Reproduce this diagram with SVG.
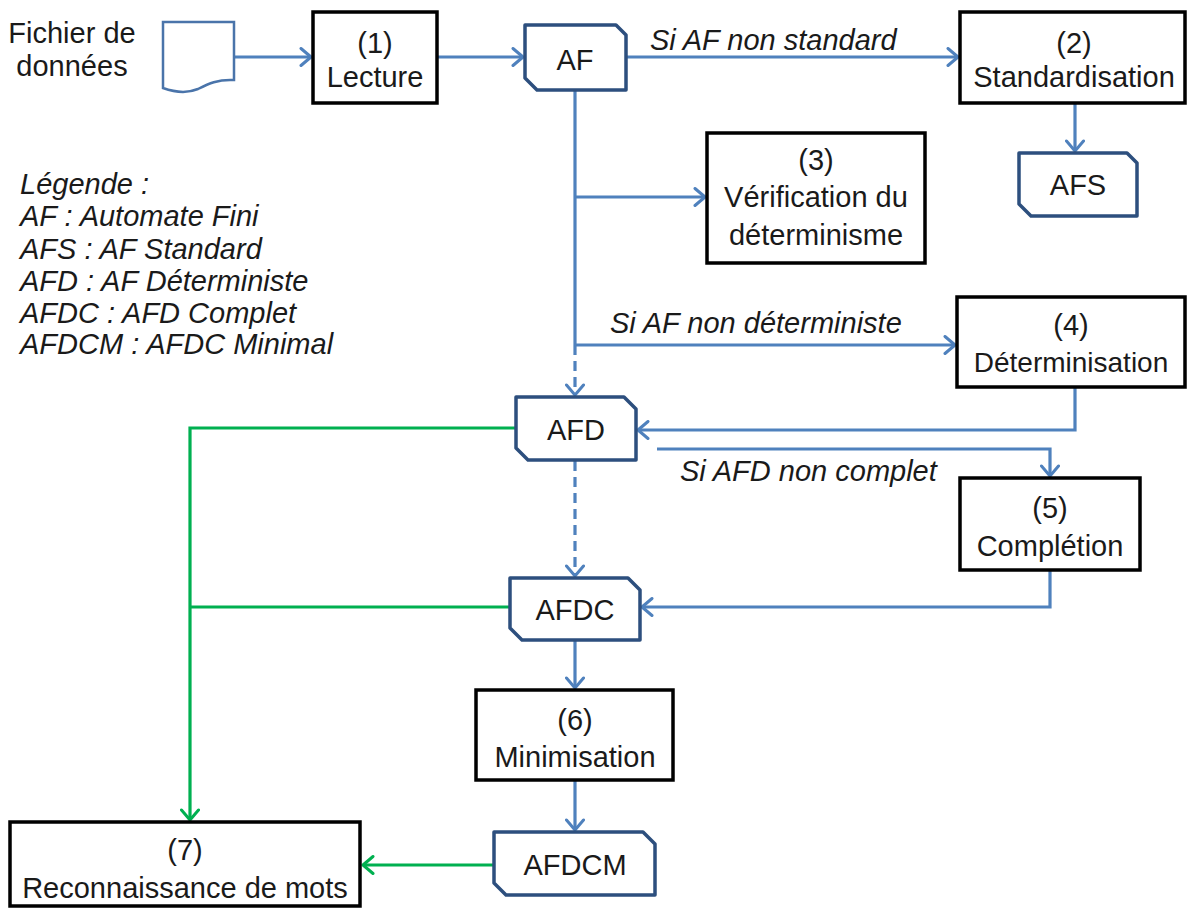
<svg xmlns="http://www.w3.org/2000/svg" width="1190" height="910" viewBox="0 0 1190 910">
<defs>
<marker id="ab" viewBox="0 0 14 20" refX="12" refY="10" markerWidth="14" markerHeight="20" markerUnits="userSpaceOnUse" orient="auto">
<path d="M2,1.5 L12,10 L2,18.5" fill="none" stroke="#4f81bd" stroke-width="3" stroke-linecap="round" stroke-linejoin="round"/>
</marker>
<marker id="ag" viewBox="0 0 14 20" refX="12" refY="10" markerWidth="14" markerHeight="20" markerUnits="userSpaceOnUse" orient="auto">
<path d="M2,1.5 L12,10 L2,18.5" fill="none" stroke="#00b050" stroke-width="3" stroke-linecap="round" stroke-linejoin="round"/>
</marker>
</defs>
<style>
text{font-family:"Liberation Sans",Arial,sans-serif;font-size:29px;fill:#1a1a1a}
.c{text-anchor:middle}
.s{font-size:28px}
.i{font-style:italic}
.box{fill:#fff;stroke:#000;stroke-width:3.5}
.snip{fill:#fff;stroke:#2d4f7e;stroke-width:3.5;stroke-linejoin:round}
.doc{fill:#fff;stroke:#4a74aa;stroke-width:2.5}
.b{fill:none;stroke:#4f81bd;stroke-width:3.2}
.bd{fill:none;stroke:#4f81bd;stroke-width:3.2;stroke-dasharray:10,6}
.g{fill:none;stroke:#00b050;stroke-width:3.2}
</style>
<rect width="1190" height="910" fill="#fff"/>

<g id="connectors">
<line class="b" x1="235" y1="57" x2="311" y2="57" marker-end="url(#ab)"/>
<line class="b" x1="438" y1="57" x2="523" y2="57" marker-end="url(#ab)"/>
<line class="b" x1="627" y1="57" x2="958" y2="57" marker-end="url(#ab)"/>
<line class="b" x1="1075" y1="104" x2="1075" y2="151" marker-end="url(#ab)"/>
<polyline class="b" points="575,91 575,345"/>
<line class="b" x1="575" y1="197" x2="705" y2="197" marker-end="url(#ab)"/>
<line class="b" x1="575" y1="345" x2="955" y2="345" marker-end="url(#ab)"/>
<line class="bd" x1="575" y1="345" x2="575" y2="395" marker-end="url(#ab)"/>
<polyline class="b" points="1075,388 1075,430 638,430" marker-end="url(#ab)"/>
<polyline class="b" points="657,449 1050,449 1050,476" marker-end="url(#ab)"/>
<line class="bd" x1="575" y1="461" x2="575" y2="576" marker-end="url(#ab)"/>
<polyline class="b" points="1050,571 1050,607 642,607" marker-end="url(#ab)"/>
<line class="b" x1="575" y1="641" x2="575" y2="688" marker-end="url(#ab)"/>
<line class="b" x1="575" y1="781" x2="575" y2="830" marker-end="url(#ab)"/>
<polyline class="g" points="515,428 190,428 190,820" marker-end="url(#ag)"/>
<line class="g" x1="509" y1="607" x2="190" y2="607"/>
<line class="g" x1="493" y1="865" x2="363" y2="865" marker-end="url(#ag)"/>
</g>

<g id="fichier">
<path class="doc" d="M163,22 H234 V80 C218,79 208,84 198,89 C186,94 174,92 163,88 Z"/>
<text class="c" x="72" y="43">Fichier de</text>
<text class="c" x="72" y="76">données</text>
</g>

<g id="lecture">
<rect class="box" x="313" y="12" width="124" height="91"/>
<text class="c" x="375" y="53">(1)</text>
<text class="c" x="375" y="87">Lecture</text>
</g>

<g id="af">
<path class="snip" d="M525,25 H616 L626,35 V90 H537 L525,78 Z"/>
<text class="c" x="575" y="70">AF</text>
</g>

<g id="standardisation">
<rect class="box" x="960" y="12" width="225" height="91"/>
<text class="c" x="1074" y="53">(2)</text>
<text class="c" x="1074" y="87">Standardisation</text>
</g>

<g id="afs">
<path class="snip" d="M1019,153 H1127 L1137,163 V216 H1031 L1019,204 Z"/>
<text class="c" x="1078" y="195">AFS</text>
</g>

<g id="verification">
<rect class="box" x="707" y="133" width="218" height="130"/>
<text class="c" x="816" y="170">(3)</text>
<text class="c" x="816" y="207">Vérification du</text>
<text class="c" x="816" y="245">déterminisme</text>
</g>

<g id="determinisation">
<rect class="box" x="957" y="297" width="228" height="90"/>
<text class="c" x="1071" y="335">(4)</text>
<text class="c s" x="1071" y="372">Déterminisation</text>
</g>

<g id="afd">
<path class="snip" d="M516,397 H624 L636,409 V460 H528 L516,448 Z"/>
<text class="c" x="576" y="440">AFD</text>
</g>

<g id="completion">
<rect class="box" x="960" y="478" width="180" height="92"/>
<text class="c" x="1050" y="518">(5)</text>
<text class="c" x="1050" y="556">Complétion</text>
</g>

<g id="afdc">
<path class="snip" d="M510,578 H628 L640,590 V640 H522 L510,628 Z"/>
<text class="c" x="575" y="620">AFDC</text>
</g>

<g id="minimisation">
<rect class="box" x="476" y="690" width="197" height="90"/>
<text class="c" x="575" y="730">(6)</text>
<text class="c" x="575" y="767">Minimisation</text>
</g>

<g id="afdcm">
<path class="snip" d="M494,832 H643 L655,844 V895 H506 L494,883 Z"/>
<text class="c" x="575" y="875">AFDCM</text>
</g>

<g id="reconnaissance">
<rect class="box" x="10" y="822" width="350" height="84"/>
<text class="c" x="185" y="860">(7)</text>
<text class="c" x="185" y="898">Reconnaissance de mots</text>
</g>

<g id="labels">
<text class="i" x="650" y="50">Si AF non standard</text>
<text class="i" x="610" y="333">Si AF non déterministe</text>
<text class="i" x="680" y="481">Si AFD non complet</text>
</g>

<g id="legende">
<text class="i" x="20" y="194">Légende :</text>
<text class="i" x="20" y="226">AF : Automate Fini</text>
<text class="i" x="20" y="259">AFS : AF Standard</text>
<text class="i" x="20" y="291">AFD : AF Déterministe</text>
<text class="i" x="20" y="323">AFDC : AFD Complet</text>
<text class="i" x="20" y="354">AFDCM : AFDC Minimal</text>
</g>
</svg>
